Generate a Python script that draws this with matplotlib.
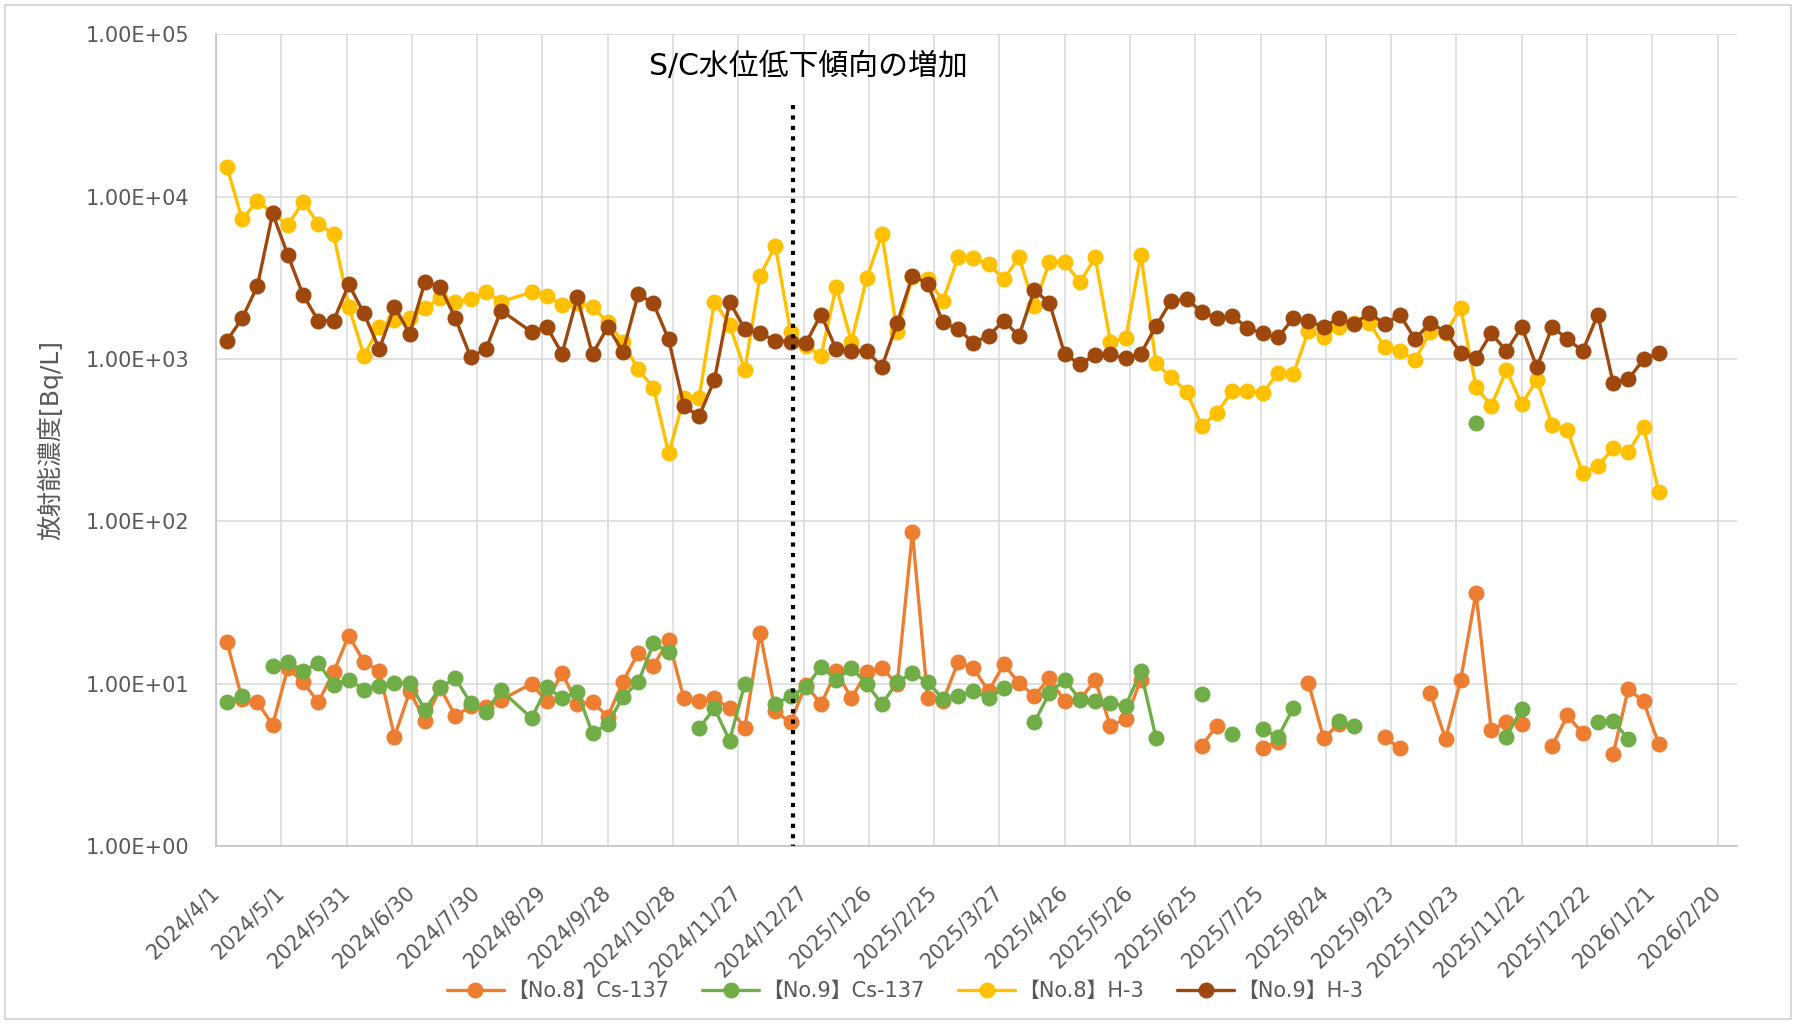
import datetime as dt

import numpy as np
import pandas as pd
import matplotlib
matplotlib.use('Agg')
import matplotlib.pyplot as plt
import matplotlib.dates as mdates
from matplotlib.patches import Rectangle
from matplotlib.transforms import ScaledTranslation

plt.rcParams['font.family'] = ['DejaVu Sans', 'Noto Sans CJK JP']

# weekly sampling, first sample 2024/4/6; None = week without a sample row
first_day = '2024-04-06'
n_weeks = 95

no8_cs = [18.1, 8.0, 7.7, 5.57, 12.5, 10.2, 7.7, 11.8, 19.8, 13.6,
          12.0, 4.72, 8.97, 5.93, 9.4, 6.32, 7.24, 7.2, 7.96, None,
          10.0, 7.77, 11.6, 7.52, 7.7, 6.28, 10.3, 15.5, 12.9, 18.5,
          8.15, 7.85, 8.15, 7.07, 5.37, 20.6, 6.75, 5.77, 9.86, 7.48,
          11.9, 8.15, 11.8, 12.5, 9.9, 85.5, 8.15, 7.77, 13.6, 12.5,
          8.97, 13.2, 10.1, 8.43, 10.8, 7.77, 8.0, 10.5, 5.52, 6.04,
          10.6, np.nan, np.nan, np.nan, 4.16, 5.52, np.nan, np.nan, 4.0, 4.4,
          np.nan, 10.1, 4.61, 5.66, np.nan, np.nan, 4.68, 4.0, np.nan, 8.75,
          4.55, 10.6, 36.4, 5.19, 5.77, 5.63, np.nan, 4.13, 6.37, 4.95,
          np.nan, 3.67, 9.27, 7.77, 4.24]

no9_cs = [7.7, 8.35, np.nan, 12.8, 13.7, 12.0, 13.4, 9.86, 10.6, 9.18,
          9.72, 10.1, 10.1, 6.9, 9.5, 10.8, 7.59, 6.74, 9.1, None,
          6.14, 9.5, 8.15, 8.88, 4.95, 5.66, 8.27, 10.2, 17.7, 15.7,
          np.nan, 5.32, 7.07, 4.46, 10.0, np.nan, 7.52, 8.35, 9.5, 12.7,
          10.6, 12.5, 10.0, 7.48, 10.2, 11.6, 10.3, 8.04, 8.43, 8.97,
          8.15, 9.4, np.nan, 5.77, 8.77, 10.6, 7.96, 7.77, 7.6, 7.3,
          11.9, 4.61, np.nan, np.nan, 8.63, np.nan, 4.89, np.nan, 5.25, 4.68,
          7.07, np.nan, np.nan, 5.93, 5.5, np.nan, np.nan, np.nan, np.nan, np.nan,
          np.nan, np.nan, 402, np.nan, 4.72, 7.0, np.nan, np.nan, np.nan, np.nan,
          5.85, 5.93, 4.55, np.nan, np.nan]

no8_h3 = [15300, 7240, 9450, 7900, 6680, 9310, 6800, 5890, 2100, 1047,
          1580, 1750, 1780, 2050, 2370, 2260, 2330, 2580, 2260, None,
          2580, 2450, 2150, 2200, 2100, 1680, 1270, 863, 665, 262,
          573, 578, 2250, 1630, 855, 3260, 4990, 1470, 1200, 1050,
          2790, 1280, 3140, 5890, 1470, 3200, 3110, 2290, 4230, 4170,
          3850, 3110, 4230, 2130, 3960, 3940, 2970, 4230, 1280, 1340,
          4370, 940, 770, 631, 387, 467, 635, 635, 614, 824,
          805, 1490, 1370, 1580, 1660, 1670, 1190, 1120, 986, 1470,
          1440, 2070, 676, 514, 855, 528, 743, 392, 365, 198,
          219, 282, 266, 383, 152]

no9_h3 = [1300, 1780, 2820, 7890, 4370, 2480, 1720, 1720, 2880, 1910,
          1150, 2100, 1430, 2990, 2790, 1780, 1030, 1150, 1990, None,
          1470, 1580, 1080, 2400, 1070, 1580, 1110, 2510, 2200, 1320,
          513, 445, 743, 2250, 1530, 1440, 1300, 1280, 1250, 1880,
          1150, 1120, 1120, 898, 1660, 3260, 2920, 1680, 1530, 1260,
          1390, 1720, 1390, 2660, 2220, 1070, 932, 1060, 1070, 1010,
          1080, 1600, 2290, 2330, 1960, 1780, 1850, 1550, 1440, 1360,
          1780, 1710, 1580, 1780, 1640, 1930, 1640, 1870, 1330, 1670,
          1470, 1090, 1010, 1440, 1120, 1580, 890, 1580, 1330, 1120,
          1880, 714, 750, 995, 1090]

labels = ['【No.8】Cs-137', '【No.9】Cs-137', '【No.8】H-3', '【No.9】H-3']
colors = ['#ED7D31', '#70AD47', '#FFC000', '#9E480E']

event_day = '2024-12-22'
event_text = 'S/C水位低下傾向の増加'

df = pd.DataFrame({'no8_cs': no8_cs, 'no9_cs': no9_cs,
                   'no8_h3': no8_h3, 'no9_h3': no9_h3},
                  index=pd.date_range(first_day, periods=n_weeks, freq='7D'),
                  dtype=float)
df = df.dropna(how='all')

fig = plt.figure(figsize=(17.96, 10.24), dpi=100)
ax = fig.add_axes([0.1203, 0.1738, 0.8469, 0.7926])

for col, lab, c in zip(df.columns, labels, colors):
    ax.plot(df.index, df[col], color=c, lw=2.4, marker='o', ms=10.5,
            label=lab, solid_capstyle='round')

ax.set_yscale('log')
ax.set_ylim(1, 1e5)
yt = [1, 10, 100, 1000, 10000, 100000]
ax.set_yticks(yt)
ax.set_yticklabels([f'{v:.2E}' for v in yt])
ax.yaxis.set_minor_locator(matplotlib.ticker.NullLocator())

x0 = dt.date(2024, 4, 1)
xt = [x0 + dt.timedelta(days=30 * k) for k in range(24)]
ax.set_xlim(mdates.date2num(x0), mdates.date2num(x0) + 699)
ax.set_xticks(mdates.date2num(xt))
ax.set_xticklabels([f'{d.year}/{d.month}/{d.day}' for d in xt],
                   rotation=45, ha='right', va='center', rotation_mode='anchor')
# nudge the rotated labels a little right, like Excel does
shift = ScaledTranslation(5 / 100, 0, fig.dpi_scale_trans)
for lbl in ax.get_xticklabels():
    lbl.set_transform(lbl.get_transform() + shift)

ax.tick_params(axis='y', length=0, labelsize=15, labelcolor='#595959', pad=19.5)
ax.tick_params(axis='x', length=0, labelsize=15, labelcolor='#595959', pad=31)
ax.grid(True, color='#D9D9D9', lw=1.1)
ax.set_axisbelow(True)
for s in ['top', 'right']:
    ax.spines[s].set_visible(False)
for s in ['left', 'bottom']:
    ax.spines[s].set_color('#BFBFBF')
    ax.spines[s].set_linewidth(1.1)

ax.set_ylabel('放射能濃度[Bq/L]', fontsize=18, color='#595959', labelpad=16)

# dotted marker line, drawn top-down so the dot pattern starts at the top
ev = mdates.date2num(pd.Timestamp(event_day))
ax.plot([ev, ev], [36700, 1], color='black', ls=(0, (1, 1.5)), lw=3, zorder=6)
ax.text(0.3897, 0.9606, event_text, transform=ax.transAxes, ha='center',
        va='center', fontsize=21.5, color='black')

fig.legend(loc='center', bbox_to_anchor=(0.504, 0.0324), ncol=4, frameon=False,
           fontsize=15, labelcolor='#595959', handlelength=2.74,
           handletextpad=0.15, columnspacing=1.6)

fig.patches.append(Rectangle((0.003, 0.005), 0.994, 0.99, transform=fig.transFigure,
                             fill=False, ec='#D9D9D9', lw=1.5))

fig.savefig('out.png', dpi=100)
